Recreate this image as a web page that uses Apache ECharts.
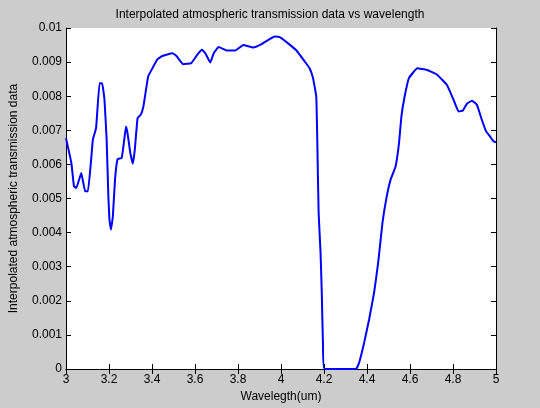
<!DOCTYPE html>
<html>
<head>
<meta charset="utf-8">
<script src="https://cdn.jsdelivr.net/npm/echarts@6/dist/echarts.min.js"></script>
<style>
html, body { margin: 0; padding: 0; background: #cccccc; }
#chart { width: 540px; height: 408px; }
</style>
</head>
<body>
<div id="chart"></div>
<script>
// wavelength (um)
var wavelength = [3.0, 3.025, 3.037, 3.048, 3.071, 3.089, 3.102, 3.117, 3.125, 3.14, 3.156, 3.168, 3.179, 3.189, 3.197, 3.202, 3.209, 3.218, 3.228, 3.24, 3.259, 3.271, 3.279, 3.286, 3.299, 3.311, 3.32, 3.333, 3.348, 3.36, 3.371, 3.382, 3.402, 3.425, 3.448, 3.494, 3.514, 3.522, 3.544, 3.583, 3.61, 3.633, 3.648, 3.671, 3.687, 3.71, 3.748, 3.787, 3.825, 3.871, 3.91, 3.941, 3.971, 3.994, 4.033, 4.072, 4.11, 4.133, 4.149, 4.164, 4.169, 4.175, 4.184, 4.19, 4.195, 4.202, 4.349, 4.364, 4.387, 4.41, 4.433, 4.452, 4.472, 4.492, 4.51, 4.533, 4.549, 4.56, 4.575, 4.595, 4.634, 4.68, 4.726, 4.772, 4.803, 4.826, 4.846, 4.865, 4.888, 4.911, 4.934, 4.954, 4.972, 4.988, 5.0];
// transmission
var transmission = [0.00677, 0.00604, 0.00536, 0.00531, 0.00575, 0.00521, 0.00521, 0.00614, 0.00673, 0.00707, 0.00838, 0.00838, 0.00789, 0.00673, 0.00507, 0.00439, 0.00409, 0.00448, 0.00556, 0.00616, 0.00619, 0.00673, 0.00711, 0.00692, 0.00634, 0.00602, 0.00643, 0.00736, 0.00746, 0.0077, 0.00814, 0.00858, 0.00882, 0.00908, 0.00918, 0.00926, 0.00918, 0.00911, 0.00894, 0.00897, 0.00921, 0.00936, 0.00926, 0.00899, 0.00926, 0.00944, 0.00934, 0.00934, 0.0095, 0.00943, 0.00953, 0.00965, 0.00975, 0.00973, 0.00955, 0.00934, 0.00902, 0.00882, 0.00853, 0.00799, 0.00663, 0.00458, 0.00341, 0.00214, 0.00078, 0.0, 0.0, 0.0002, 0.00078, 0.00146, 0.00224, 0.00312, 0.00429, 0.00507, 0.00556, 0.00594, 0.00663, 0.00741, 0.00799, 0.00853, 0.00882, 0.00877, 0.00863, 0.00833, 0.00789, 0.00755, 0.00758, 0.00778, 0.00787, 0.00775, 0.00731, 0.00697, 0.00682, 0.00668, 0.00665];

var chart = echarts.init(document.getElementById('chart'));

var points = wavelength.map(function (w, i) { return [w, transmission[i]]; });

var font = 'Liberation Sans, Arial, sans-serif';
var boxLine = { show: true, lineStyle: { color: '#000', width: 1 } };
var tickIn = { show: true, inside: true, length: 5, lineStyle: { color: '#000' } };

option = {
    backgroundColor: '#cccccc',
    animation: false,
    title: {
        text: 'Interpolated atmospheric transmission data vs wavelength',
        left: 'center',
        top: 4,
        textStyle: { fontFamily: font, fontSize: 12, fontWeight: 'normal', color: '#000' }
    },
    grid: {
        left: 63,
        right: 44,
        top: 28,
        bottom: 38,
        show: true,
        backgroundColor: '#fff',
        borderWidth: 0
    },
    xAxis: [
        {
            type: 'value',
            min: 3,
            max: 5,
            interval: 0.2,
            name: 'Wavelegth(um)',
            nameLocation: 'middle',
            nameGap: 22,
            nameTextStyle: { fontFamily: font, fontSize: 12, color: '#000' },
            axisLine: boxLine,
            axisTick: tickIn,
            splitLine: { show: false },
            axisLabel: {
                fontFamily: font, fontSize: 12, color: '#000', margin: 5,
                formatter: function (v) { return String(+v.toFixed(1)); }
            }
        },
        {
            type: 'value',
            position: 'top',
            min: 3,
            max: 5,
            interval: 0.2,
            axisLine: boxLine,
            axisTick: tickIn,
            splitLine: { show: false },
            axisLabel: { show: false }
        }
    ],
    yAxis: [
        {
            type: 'value',
            min: 0,
            max: 0.01,
            interval: 0.001,
            name: 'Interpolated atmospheric transmission data',
            nameLocation: 'middle',
            nameGap: 46,
            nameTextStyle: { fontFamily: font, fontSize: 12, color: '#000' },
            axisLine: boxLine,
            axisTick: tickIn,
            splitLine: { show: false },
            axisLabel: {
                fontFamily: font, fontSize: 12, color: '#000', margin: 4,
                formatter: function (v) { return String(+v.toFixed(3)); }
            }
        },
        {
            type: 'value',
            position: 'right',
            min: 0,
            max: 0.01,
            interval: 0.001,
            axisLine: boxLine,
            axisTick: tickIn,
            splitLine: { show: false },
            axisLabel: { show: false }
        }
    ],
    series: [
        {
            type: 'line',
            data: points,
            showSymbol: false,
            smooth: 0.1,
            lineStyle: { color: '#0000ff', width: 2 },
            itemStyle: { color: '#0000ff' }
        }
    ]
};

chart.setOption(option);
</script>
</body>
</html>
